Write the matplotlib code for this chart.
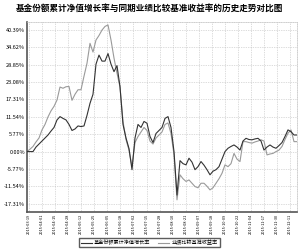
import numpy as np
import matplotlib
matplotlib.use("Agg")
import matplotlib.pyplot as plt

plt.rcParams['font.family'] = ['Noto Sans CJK SC', 'DejaVu Sans']
plt.rcParams['axes.unicode_minus'] = False

# cumulative NAV growth of the fund (%), sampled along the period
fund = [0, 0, 0, 1.5, 2.5, 3.5, 4.5, 5.5, 6.8, 8.0,
        10.5, 11.6, 11.0, 10.5, 9.0, 7.0, 7.5, 8.5, 8.3, 8.5,
        12.0, 16.0, 19.0, 29.0, 32.0, 30.0, 30.0, 32.5, 29.0, 26.5,
        28.5, 21.5, 9.0, 4.5, 1.0, -6.0, 4.5, 9.0, 8.0, 10.0,
        9.4, 5.0, 3.0, 6.0, 7.0, 8.0, 11.0, 11.6, 8.0, 0.0,
        -14.4, -3.0, -4.0, -4.4, -2.2, -3.5, -6.0, -5.0, -3.3, -4.5,
        -6.0, -7.7, -6.5, -6.0, -5.0, -2.5, 0.0, 1.1, 1.7, 2.2,
        1.5, 0.5, 3.5, 4.4, 4.0, 3.9, 4.2, 4.4, 3.5, 0.5,
        1.5, 2.2, 1.5, 1.1, 2.0, 3.0, 5.0, 7.2, 6.6, 5.5, 5.5]

# benchmark return (%)
bench = [0, 0.8, 1.7, 3.2, 4.5, 7.2, 9.0, 11.5, 13.5, 15.0,
         17.1, 21.4, 21.0, 21.5, 21.6, 17.0, 19.0, 20.5, 20.5, 25.0,
         29.3, 35.9, 33.0, 37.0, 38.5, 40.3, 41.5, 42.0, 37.0, 31.0,
         26.0, 21.4, 10.0, 4.0, 0.5, -5.0, 3.0, 5.0, 6.5, 8.0,
         7.0, 3.5, 2.5, 4.5, 5.5, 6.5, 9.0, 9.5, 6.0, -1.0,
         -16.0, -7.7, -9.0, -9.9, -9.4, -10.5, -11.6, -12.0, -10.5, -10.5,
         -11.5, -12.7, -12.0, -10.5, -9.0, -7.2, -4.4, -5.0, -4.0, -0.6,
         -2.5, -3.3, 3.3, 3.3, 3.0, 2.8, 3.2, 3.5, 3.9, 3.5,
         -1.1, -0.8, -0.6, 0.0, 0.5, 1.7, 4.0, 6.1, 7.2, 3.3, 3.3]

dates = ['2015-03-19', '2015-04-01', '2015-04-15', '2015-04-28', '2015-05-12',
         '2015-05-25', '2015-06-05', '2015-06-18', '2015-07-02', '2015-07-15',
         '2015-07-28', '2015-08-10', '2015-08-21', '2015-09-07', '2015-09-18',
         '2015-10-09', '2015-10-22', '2015-11-04', '2015-11-17', '2015-11-30',
         '2015-12-11']

yticks = [-17.31, -11.54, -5.77, 0.00, 5.77, 11.54, 17.31, 23.08, 28.85, 34.62, 40.39]

fig = plt.figure(figsize=(3.0, 2.49), dpi=100)
ax = fig.add_axes([0.09, 0.149, 0.90, 0.763])

x = np.arange(len(fund))
ax.plot(x, fund, color='#333333', lw=0.8, label='基金份额累计净值增长率', zorder=3)
ax.plot(x, bench, color='#9a9a9a', lw=0.8, label='业绩比较基准收益率', zorder=2)

ax.set_xlim(0, len(fund) - 1)
ax.set_ylim(-20, 43)
ax.set_yticks(yticks)
ax.set_yticklabels(['%.2f%%' % v for v in yticks], fontsize=4)
ax.set_xticks(np.linspace(0.67, 87.7, len(dates)))
ax.set_xticklabels(dates, rotation=90, fontsize=2.8)
ax.tick_params(axis='both', length=0, pad=1.5)

ax.grid(True, color='#bbbbbb', ls=(0, (1, 1.5)), lw=0.5)
for s in ['top', 'right']:
    ax.spines[s].set_color('#bbbbbb')
    ax.spines[s].set_linestyle((0, (1, 1.5)))
    ax.spines[s].set_linewidth(0.5)
for s in ['left', 'bottom']:
    ax.spines[s].set_color('#555555')
    ax.spines[s].set_linewidth(1.2)

fig.suptitle('基金份额累计净值增长率与同期业绩比较基准收益率的历史走势对比图',
             fontsize=6.2, fontweight='bold', y=0.985)

fig.legend(loc='center', bbox_to_anchor=(0.497, 0.026), ncol=2, fontsize=3.7,
           frameon=True, fancybox=False, edgecolor='#333333', handlelength=2.2,
           columnspacing=1.5, borderpad=0.4, handletextpad=0.4)

fig.savefig('out.png', dpi=100)
